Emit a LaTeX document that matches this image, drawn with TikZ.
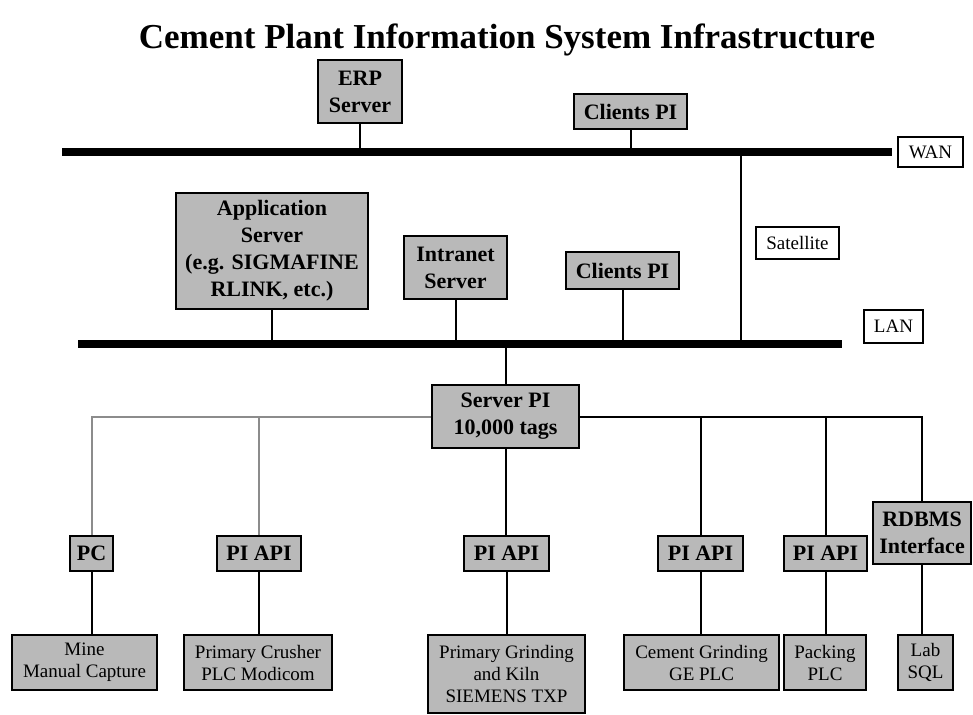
\documentclass[tikz,border=0pt]{standalone}
\usepackage{fontspec}
\setmainfont{Liberation Serif}
\definecolor{boxgray}{RGB}{185,185,185}

\begin{document}
\begin{tikzpicture}[x=0.5pt,y=-0.5pt,
    box/.style={draw,line width=1pt,fill=boxgray,inner sep=0pt,align=center,
      font=\bfseries\fontsize{11}{13.5}\selectfont},
    dev/.style={box,font=\fontsize{9.5}{11}\selectfont},
    tag/.style={draw,line width=1pt,fill=white,inner sep=0pt,
      font=\fontsize{9.5}{11}\selectfont},
    bar/.style={line width=4pt},
    wire/.style={line width=1pt},
    dimwire/.style={wire,black!45}]
  \useasboundingbox (0,0) rectangle (973,714);
  \node[font=\bfseries\fontsize{17.5}{20}\selectfont] (title) at (507,40)
    {Cement Plant Information System Infrastructure};

  % WAN level
  \node[box,minimum width=42pt,minimum height=31.5pt] (erp) at (360,91.5) {ERP\\Server};
  \node[box,minimum width=56.5pt,minimum height=17.5pt] (cliwan) at (630.5,111.5) {Clients PI};
  \node[tag,minimum width=32.5pt,minimum height=15pt] (wan) at (930.5,152) {WAN};
  \coordinate (wanL) at (62,152);
  \coordinate (wanR) at (892,152);

  % LAN level
  \node[box,minimum width=96pt,minimum height=58pt] (app) at (272,251)
    {Application\\Server\\(e.g. SIGMAFINE\\RLINK, etc.)};
  \node[box,minimum width=51.5pt,minimum height=31.5pt] (intra) at (455.5,267.5) {Intranet\\Server};
  \node[box,minimum width=56.5pt,minimum height=18.5pt] (clilan) at (622.5,270.5) {Clients PI};
  \node[tag,minimum width=41.5pt,minimum height=16pt] (sat) at (797.5,243) {Satellite};
  \node[tag,minimum width=29.5pt,minimum height=16.5pt] (lan) at (893.5,326.5) {LAN};
  \coordinate (lanL) at (78,343.5);
  \coordinate (lanR) at (842,343.5);
  \coordinate (satlink) at (741,152);

  % PI server and interfaces
  \node[box,minimum width=73.5pt,minimum height=31.5pt] (srv) at (505.5,416.5) {Server PI\\10,000 tags};
  \node[box,minimum width=21.5pt,minimum height=17.5pt] (pc) at (91.5,553.5) {PC};
  \node[box,minimum width=42pt,minimum height=17.5pt] (api1) at (259,553.5) {PI API};
  \node[box,minimum width=42.5pt,minimum height=17.5pt] (api2) at (506.5,553.5) {PI API};
  \node[box,minimum width=42.5pt,minimum height=17.5pt] (api3) at (700.5,553.5) {PI API};
  \node[box,minimum width=41.5pt,minimum height=17.5pt] (api4) at (825.5,553.5) {PI API};
  \node[box,minimum width=49pt,minimum height=31pt] (rdbms) at (922,533) {RDBMS\\Interface};

  % plant sources
  \node[dev,minimum width=72.5pt,minimum height=27.5pt] (mine) at (84.5,662.5) {Mine\\Manual Capture};
  \node[dev,minimum width=74pt,minimum height=27.5pt] (crush) at (258,662.5) {Primary Crusher\\PLC Modicom};
  \node[dev,minimum width=78.5pt,minimum height=39pt] (grind) at (506.5,674) {Primary Grinding\\and Kiln\\SIEMENS TXP};
  \node[dev,minimum width=77.5pt,minimum height=27.5pt] (cemg) at (701.5,662.5) {Cement Grinding\\GE PLC};
  \node[dev,minimum width=41pt,minimum height=27.5pt] (pack) at (825,662.5) {Packing\\PLC};
  \node[dev,minimum width=27.5pt,minimum height=27.5pt] (lab) at (925.5,662.5) {Lab\\SQL};

  % network links
  \draw[wire] (erp.south) -- (erp.south |- wanL);
  \draw[wire] (cliwan.south) -- (cliwan.south |- wanL);
  \draw[wire] (satlink) -- (satlink |- lanL);
  \draw[wire] (app.south) -- (app.south |- lanL);
  \draw[wire] (intra.south) -- (intra.south |- lanL);
  \draw[wire] (clilan.south) -- (clilan.south |- lanL);
  \draw[wire] (srv.north) -- (srv.north |- lanL);
  \draw[bar] (wanL) -- (wanR);
  \draw[bar] (lanL) -- (lanR);

  % PI tree
  \draw[dimwire] (srv.west) -| (pc.north);
  \draw[dimwire] (api1.north) -- (api1.north |- srv.west);
  \draw[wire] (srv.south) -- (srv.south |- api2.north);
  \draw[wire] (srv.east) -| (rdbms.north);
  \draw[wire] (api3.north) -- (api3.north |- srv.east);
  \draw[wire] (api4.north) -- (api4.north |- srv.east);
  \foreach \a/\b in {pc/mine,api1/crush,api2/grind,api3/cemg,api4/pack,rdbms/lab}
    \draw[wire] (\a.south) -- (\a.south |- \b.north);
\end{tikzpicture}
\end{document}
